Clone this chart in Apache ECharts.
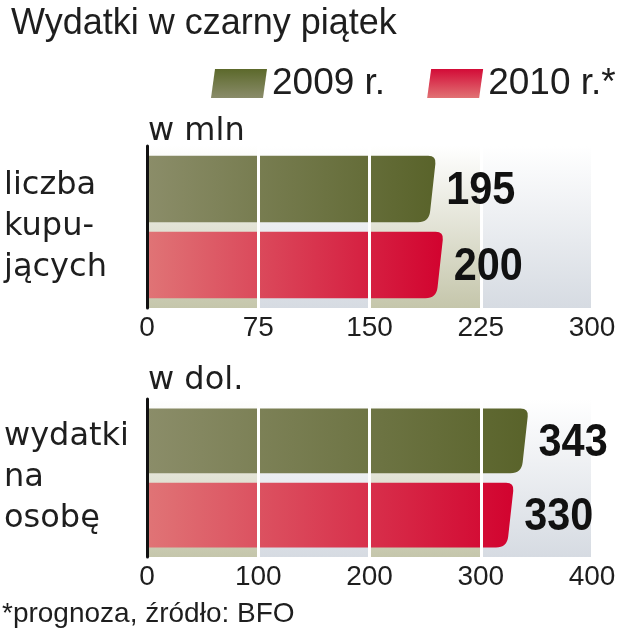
<!DOCTYPE html>
<html>
<head>
<meta charset="utf-8">
<script src="https://cdn.jsdelivr.net/npm/echarts@6/dist/echarts.min.js"></script>
<style>
html,body{margin:0;padding:0;background:#fff;}
#chart{width:623px;height:640px;}
</style>
</head>
<body>
<div id="chart"></div>
<script>
// ---- data ----
const titleText = 'Wydatki w czarny piątek';
const seriesNames = ['2009 r.', '2010 r.*'];
const categories = ['liczba\nkupu-\njących', 'wydatki\nna\nosobę'];
const units = ['w mln', 'w dol.'];
const buyers = [195, 200];          // liczba kupujących, mln
const spending = [343, 330];        // wydatki na osobę, dol.
const axisMax = [300, 400];
const axisStep = [75, 100];
const footnote = '*prognoza, źródło: BFO';

// ---- styles ----
const fMain = '"Liberation Sans", Arial, sans-serif';
const fLabel = '"DejaVu Sans", sans-serif';
const txt = '#1e1e1e';

const barFill = [
  {type:'linear', x:0, y:0, x2:1, y2:0, colorStops:[{offset:0,color:'#8b8d69'},{offset:1,color:'#59632a'}]},
  {type:'linear', x:0, y:0, x2:1, y2:0, colorStops:[{offset:0,color:'#e07476'},{offset:1,color:'#d2032f'}]}
];
const legendFill = [
  {type:'linear', x:0, y:0, x2:0, y2:1, colorStops:[{offset:0,color:'#5c692b'},{offset:1,color:'#8a8c6a'}]},
  {type:'linear', x:0, y:0, x2:0, y2:1, colorStops:[{offset:0,color:'#d30b37'},{offset:1,color:'#e17274'}]}
];
const bandOlive = {type:'linear', x:0, y:0, x2:0, y2:1, colorStops:[{offset:0,color:'#ffffff'},{offset:1,color:'#c5c6ab'}]};
const bandBlue = {type:'linear', x:0, y:0, x2:0, y2:1, colorStops:[{offset:0,color:'#ffffff'},{offset:1,color:'#d6dbe2'}]};

function barGeom(slot, api) {
  const v = api.value(0);
  const c = api.value(1);
  const base = api.coord([0, c]);
  const end = api.coord([v, c]);
  const band = api.size([0, 1])[1];
  const barH = band * 0.41, gap = band * 0.06;
  const yt = slot === 0 ? base[1] - gap / 2 - barH : base[1] + gap / 2;
  return {v: v, x0: base[0], xe: end[0], yt: yt, yb: yt + barH, barH: barH};
}

function makeBar(slot) {
  return function (params, api) {
    const g = barGeom(slot, api);
    const s = g.barH * 0.11;
    const L = Math.sqrt(s * s + g.barH * g.barH);
    const ux = -s / L, uy = g.barH / L;
    const r1 = 8, r2 = 11;
    const xe = g.xe, yt = g.yt, yb = g.yb, x0 = g.x0;
    const d = 'M' + x0 + ',' + yt +
      ' L' + (xe - r1) + ',' + yt +
      ' Q' + xe + ',' + yt + ' ' + (xe + ux * r1) + ',' + (yt + uy * r1) +
      ' L' + (xe - s - ux * r2) + ',' + (yb - uy * r2) +
      ' Q' + (xe - s) + ',' + yb + ' ' + (xe - s - r2) + ',' + yb +
      ' L' + x0 + ',' + yb + ' Z';
    return {type:'path', shape:{pathData:d}, style:{fill:barFill[slot]}};
  };
}

function makeLabel(slot) {
  return function (params, api) {
    const g = barGeom(slot, api);
    return {type:'text', x: g.xe + 10, y: (g.yt + g.yb) / 2 + 2, scaleX: 0.9,
      style:{text:String(g.v), fontSize:46, fontWeight:'bold', fontFamily:fMain,
             fill:'#111', align:'left', verticalAlign:'middle'}};
  };
}

const grids = [
  {left:147, right:31, top:146, height:162},
  {left:147, right:31, top:399, height:158}
];

const xAxes = [];
const yAxes = [];
[0,1].forEach(function(g){
  xAxes.push({type:'value', gridIndex:g, min:0, max:axisMax[g], interval:axisStep[g],
    axisLine:{show:false}, axisTick:{show:false}, splitLine:{show:false},
    splitArea:{show:true, areaStyle:{color:[bandOlive, bandBlue]}},
    axisLabel:{show:true, fontSize:28, fontFamily:fMain, color:txt, margin:6}});
  xAxes.push({type:'value', gridIndex:g, min:0, max:axisMax[g], interval:axisStep[g], z:10,
    axisLine:{show:false}, axisTick:{show:false}, axisLabel:{show:false},
    splitLine:{show:true, lineStyle:{color:'#ffffff', width:3}}});
  yAxes.push({type:'category', gridIndex:g, data:[categories[g]], z:12,
    axisLine:{show:true, lineStyle:{color:'#111', width:3}}, axisTick:{show:false},
    splitLine:{show:false},
    axisLabel:{show:true, align:'left', margin:143, fontSize:32, lineHeight:41,
      padding:[14,0,0,0], fontFamily:fLabel, color:txt}});
});

const seriesData = [buyers, spending];
const series = [];
[0,1].forEach(function(g){
  [0,1].forEach(function(slot){
    series.push({type:'custom', name:seriesNames[slot], xAxisIndex:g*2, yAxisIndex:g,
      itemStyle:{color:legendFill[slot]},
      encode:{x:0, y:1},
      renderItem:makeBar(slot),
      data:[[seriesData[g][slot], 0]]});
    series.push({type:'custom', name:'label', z:20, xAxisIndex:g*2, yAxisIndex:g,
      encode:{x:0, y:1}, silent:true,
      renderItem:makeLabel(slot),
      data:[[seriesData[g][slot], 0]]});
  });
});

const chart = echarts.init(document.getElementById('chart'));
chart.setOption({
  animation:false,
  backgroundColor:'#ffffff',
  title:{text:titleText, left:11, top:6, padding:0,
    textStyle:{fontSize:36, fontWeight:'normal', fontFamily:fMain, color:txt}},
  legend:{left:206, top:60, itemWidth:56, itemHeight:29, itemGap:42, selectedMode:false,
    icon:'path://M4,0 L56,0 L52,29 L0,29 Z',
    textStyle:{fontSize:37, fontFamily:fMain, color:txt},
    data:[{name:seriesNames[0], itemStyle:{color:legendFill[0]}},
          {name:seriesNames[1], itemStyle:{color:legendFill[1]}}]},
  grid:grids,
  xAxis:xAxes,
  yAxis:yAxes,
  series:series,
  graphic:[
    {type:'text', left:148, top:116, style:{text:units[0], fontSize:32, fontFamily:fLabel, fill:txt}},
    {type:'text', left:148, top:365, style:{text:units[1], fontSize:32, fontFamily:fLabel, fill:txt}},
    {type:'text', left:2, top:600, style:{text:footnote, fontSize:28, fontFamily:fMain, fill:txt}}
  ]
});
</script>
</body>
</html>
